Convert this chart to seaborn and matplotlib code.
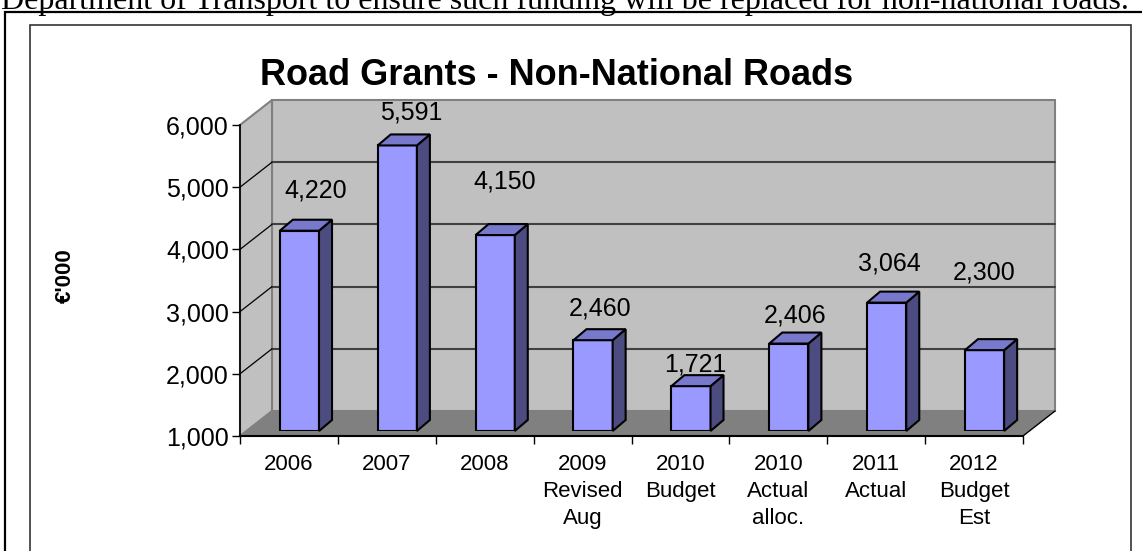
import numpy as np
import matplotlib
matplotlib.use("Agg")
import matplotlib.pyplot as plt
from matplotlib.patches import Polygon, Rectangle
import seaborn as sns

categories = ["2006", "2007", "2008", "2009\nRevised\nAug", "2010\nBudget",
              "2010\nActual\nalloc.", "2011\nActual", "2012\nBudget\nEst"]
values = [4220, 5591, 4150, 2460, 1721, 2406, 3064, 2300]
yticks = [1000, 2000, 3000, 4000, 5000, 6000]

# labels in the original were dragged around by hand -> pixel nudges
label_dx = [16, 14, 10, 7, 4, 6, 3, 0]
label_dy = [40, 33, 54, 32, 22, 28, 39, 78]

W, H = 1142, 551


def fx(x):
    return x / W


def fy(y):
    return 1 - y / H


sns.set_style("white")
plt.rcParams["font.family"] = ["Liberation Sans", "DejaVu Sans"]
plt.rcParams["text.color"] = "black"
plt.rcParams["xtick.color"] = "black"
plt.rcParams["ytick.color"] = "black"
plt.rcParams["axes.labelcolor"] = "black"

fig = plt.figure(figsize=(W / 100, H / 100), dpi=100)

# front plane of the 3d box
ax = fig.add_axes([fx(240), fy(436), 783 / W, 311 / H])
ax.patch.set_alpha(0)
x0, x1 = -0.5, 7.5
y0, y1 = yticks[0], yticks[-1]
ax.set_xlim(x0, x1)
ax.set_ylim(y0, y1)

# depth of the walls in data units
dx = 32 / 97.875
dy = 25 / 62.2 * 1000

back = Polygon([(x0 + dx, y0 + dy), (x1 + dx, y0 + dy), (x1 + dx, y1 + dy), (x0 + dx, y1 + dy)],
               closed=True, fc="#c0c0c0", ec="#808080", lw=1.5, clip_on=False, zorder=0)
side = Polygon([(x0, y0), (x0 + dx, y0 + dy), (x0 + dx, y1 + dy), (x0, y1)],
               closed=True, fc="#c0c0c0", ec="#808080", lw=1.5, clip_on=False, zorder=0)
floor = Polygon([(x0, y0), (x1, y0), (x1 + dx, y0 + dy), (x0 + dx, y0 + dy)],
                closed=True, fc="#808080", ec="none", clip_on=False, zorder=0.5)
ax.add_patch(back)
ax.add_patch(side)
ax.add_patch(floor)
ax.plot([x1, x1 + dx], [y0, y0 + dy], color="black", lw=1, clip_on=False, zorder=1)

for v in yticks[1:-1]:
    ax.plot([x0 + dx, x1 + dx], [v + dy, v + dy], color="#404040", lw=1.5, clip_on=False, zorder=0.6)
    ax.plot([x0, x0 + dx], [v, v + dy], color="black", lw=0.9, clip_on=False, zorder=0.6)

sns.despine(ax=ax)
ax.spines["left"].set_color("black")
ax.spines["bottom"].set_color("black")
ax.spines["left"].set_linewidth(1.2)
ax.spines["bottom"].set_linewidth(1.5)

ax.set_yticks(yticks)
ax.set_yticklabels([f"{v:,}" for v in yticks])
ax.tick_params(axis="y", left=True, length=6, width=1, color="black", labelsize=18, pad=2)

ax.set_xticks(np.arange(x0, x1 + 0.5, 1))
ax.set_xticklabels([])
ax.set_xticks(range(len(categories)), minor=True)
ax.set_xticklabels(categories, minor=True)
ax.tick_params(axis="x", which="major", bottom=True, length=6, width=1, color="black")
ax.tick_params(axis="x", which="minor", bottom=True, length=0, labelsize=16, pad=13)
for t in ax.get_xticklabels(minor=True):
    t.set_linespacing(1.36)

# bars sit a little behind the front plane
bx = fig.add_axes([fx(250.5), fy(431), 783 / W, 311 / H])
sns.barplot(x=categories, y=values, ax=bx, width=0.4, color="#9999ff", saturation=1,
            edgecolor="black", linewidth=1.5)
bx.set_xlim(x0, x1)
bx.set_ylim(y0, y1)
bx.axis("off")

bdx = 13 / 97.875
bdy = 11 / 62.2 * 1000
for i, p in enumerate(bx.patches):
    v = values[i]
    p.set_y(y0)
    p.set_height(v - y0)
    l = p.get_x()
    r = l + p.get_width()
    top = Polygon([(l, v), (r, v), (r + bdx, v + bdy), (l + bdx, v + bdy)],
                  closed=True, fc="#7878cc", ec="black", lw=1.5, clip_on=False)
    sd = Polygon([(r, y0), (r, v), (r + bdx, v + bdy), (r + bdx, y0 + bdy)],
                 closed=True, fc="#4c4c80", ec="black", lw=1.5, clip_on=False)
    bx.add_patch(sd)
    bx.add_patch(top)
    bx.annotate(f"{v:,}", xy=(l + p.get_width() / 2, v), xytext=(label_dx[i], label_dy[i]),
                textcoords="offset pixels", ha="center", va="center", fontsize=18)

fig.text(fx(65), fy(276), "€'000", rotation=90, fontweight="bold", fontsize=16,
         ha="center", va="center")
fig.text(fx(557), fy(85), "Road Grants - Non-National Roads", fontweight="bold", fontsize=26,
         ha="center", va="baseline")

# bit of the surrounding document, cut off by the screenshot
fig.text(fx(1), fy(9), "Department of Transport to ensure such funding will be replaced for non-national roads.",
         family="Liberation Serif", fontsize=23, ha="left", va="baseline")

# frames
fig.add_artist(Rectangle((fx(5), fy(570)), 1.2, (570 - 12) / H, transform=fig.transFigure,
                         fill=False, ec="black", lw=1.6))
fig.add_artist(Rectangle((fx(30), fy(570)), (1131 - 30) / W, (570 - 25) / H, transform=fig.transFigure,
                         fill=False, ec="#333333", lw=1.2))

fig.savefig("out.png", dpi=100)
